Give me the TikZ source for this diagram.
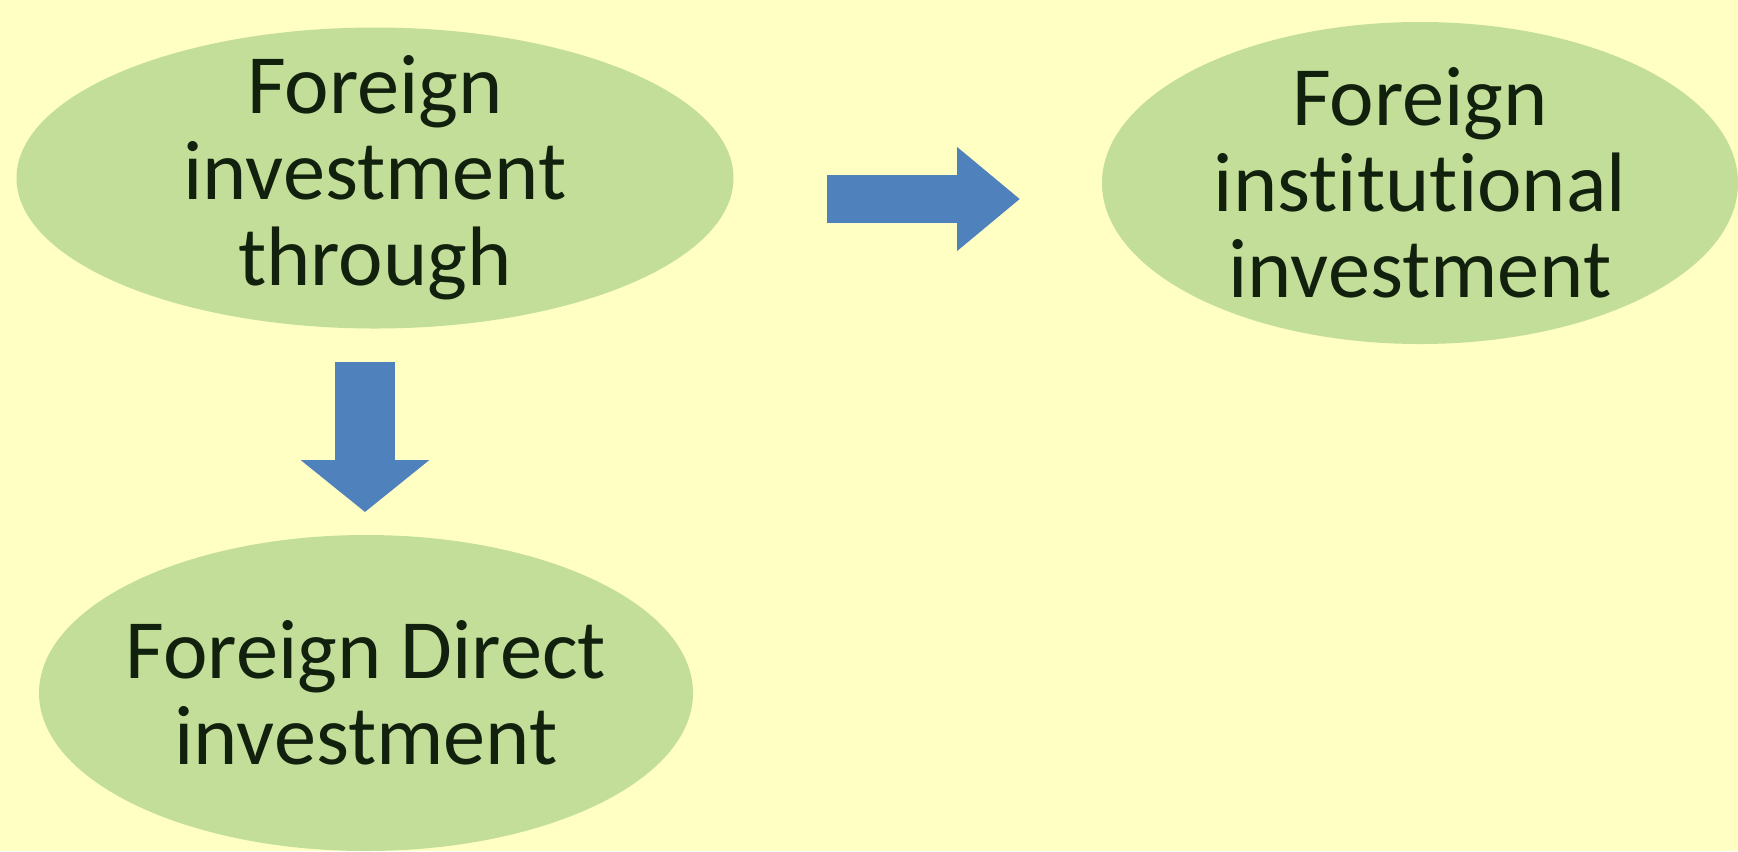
\documentclass[tikz,border=0pt]{standalone}
\usepackage{fontspec}
\setmainfont{Carlito}[Ligatures=NoCommon]
\usetikzlibrary{shapes.geometric,arrows.meta}
\definecolor{paper}{RGB}{255,255,196}
\definecolor{leaf}{RGB}{195,222,152}
\definecolor{arrowblue}{RGB}{79,129,189}
\definecolor{ink}{RGB}{18,32,14}

\begin{document}
\begin{tikzpicture}[
  bubble/.style={ellipse, fill=leaf, draw=none, inner sep=0pt},
  words/.style={align=center, text=ink, font=\fontsize{24}{24.5}\selectfont},
  blockarrow/.style={draw=arrowblue, line width=#1}]
  \filldraw[fill=paper, draw=none] (0,0) rectangle (17.38,-8.51);
  \node[bubble, minimum width=7.17cm, minimum height=3.01cm,
    label={[words]center:Foreign\\investment\\through}] (through) at (3.75,-1.78) {};
  \node[bubble, minimum width=6.36cm, minimum height=3.22cm,
    label={[words]center:Foreign\\institutional\\investment}] (fii) at (14.20,-1.83) {};
  \node[bubble, minimum width=6.54cm, minimum height=3.16cm,
    label={[words]center:Foreign Direct\\investment}] (fdi) at (3.66,-6.93) {};
  \coordinate (r0) at (8.27,-1.99);
  \coordinate (r1) at (10.20,-1.99);
  \coordinate (d0) at (3.65,-3.62);
  \coordinate (d1) at (3.65,-5.12);
  \draw[blockarrow=0.48cm, -{Triangle[length=0.63cm, width=1.0cm, fill=arrowblue]}] (r0) -- (r1);
  \draw[blockarrow=0.6cm, -{Triangle[length=0.52cm, width=1.26cm, fill=arrowblue]}] (d0) -- (d1);
\end{tikzpicture}
\end{document}
